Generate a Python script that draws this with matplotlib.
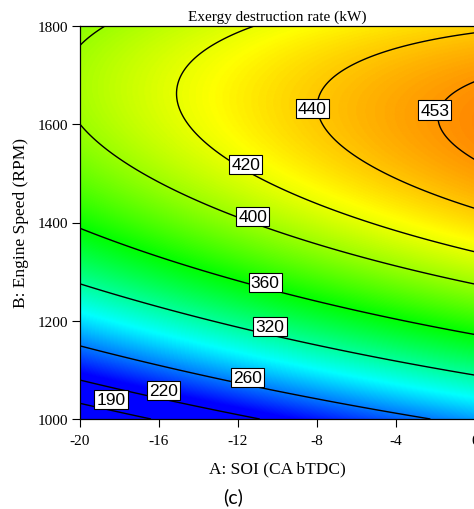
import numpy as np
import matplotlib
matplotlib.use("Agg")
import matplotlib.pyplot as plt
from matplotlib.colors import LinearSegmentedColormap, Normalize

# ---- data (contour crossings: level, SOI, speed) ----
pt_level = [190, 190,
            220, 220,
            260, 260, 260, 260,
            320, 320, 320, 320,
            360, 360, 360, 360, 360,
            400, 400, 400, 400, 400, 400, 400,
            420, 420, 420, 420, 420,
            440, 440, 440, 440,
            453, 453, 453]
pt_soi = [-20, -16.37,
          -20, -11.31,
          -20, -12.32, -10.21, -2.45,
          -20, -12.66, -10.89, -0.08,
          -20, -11.14, -10.18, -1.74, 0,
          -20, -17.22, -11.98, -10.13, 0, -20, -18.65,
          -11.48, -15.19, -12.32, -10.18, 0,
          0, -8.29, -5.28, 0,
          0, -1.99, 0]
pt_speed = [1031, 1000,
            1078, 1000,
            1148, 1085, 1058, 1001,
            1275, 1200, 1173, 1092,
            1387, 1271, 1258, 1190, 1163,
            1604, 1509, 1414, 1380, 1275, 1753, 1800,
            1800, 1665, 1529, 1468, 1343,
            1784, 1638, 1509, 1431,
            1682, 1611, 1533]

contour_levels = [190, 220, 260, 320, 360, 400, 420, 440, 453]
label_soi = [-18.43, -15.78, -11.53, -10.38, -10.63, -11.26, -11.61, -8.24, -2.04]
label_speed = [1039, 1058, 1085, 1188, 1278, 1412, 1518, 1632, 1629]

x_ticks = [-20, -16, -12, -8, -4, 0]
y_ticks = [1000, 1200, 1400, 1600, 1800]

# ---- quadratic response-surface model fitted to the readings ----
def design(A, B):
    a = (np.asarray(A, float) + 10) / 10
    b = (np.asarray(B, float) - 1400) / 400
    return np.stack([np.ones_like(a), a, b, a * b, a * a, b * b], axis=-1)

coef, *_ = np.linalg.lstsq(design(pt_soi, pt_speed), np.asarray(pt_level, float), rcond=None)

A = np.linspace(-20, 0, 400)
B = np.linspace(1000, 1800, 400)
AG, BG = np.meshgrid(A, B)
Z = design(AG, BG) @ coef

# ---- figure ----
fig = plt.figure(figsize=(4.74, 5.10), dpi=100)
ax = fig.add_axes([80 / 474, 90 / 510, 395 / 474, 393 / 510])

cmap = LinearSegmentedColormap.from_list(
    "de", [(0, 0, 1), (0, 1, 1), (0, 1, 0), (1, 1, 0), (1, 0, 0)])
cmap.set_under((0, 0, 1))
cmap.set_over((1, 0, 0))
norm = Normalize(vmin=228, vmax=492)

ax.imshow(Z, extent=[-20, 0, 1000, 1800], origin="lower", aspect="auto",
          cmap=cmap, norm=norm, interpolation="bilinear")
cs = ax.contour(AG, BG, Z, levels=contour_levels, colors="k", linewidths=1.0)
texts = ax.clabel(cs, contour_levels, inline=False, fmt="%d", fontsize=12.5,
                  manual=list(zip(label_soi, label_speed)))
for t, lx, ly in zip(texts, label_soi, label_speed):
    t.set_rotation(0)
    t.set_position((lx, ly))
    t.set_fontfamily("Liberation Sans")
    t.set_bbox(dict(boxstyle="square,pad=0.12", fc="white", ec="black", lw=0.8))
    t.set_zorder(10)

ax.set_xlim(-20, 0)
ax.set_ylim(1000, 1800)
ax.set_xticks(x_ticks)
ax.set_yticks(y_ticks)
ax.set_xticklabels([str(v) for v in x_ticks], fontfamily="Liberation Serif", fontsize=11)
ax.set_yticklabels([str(v) for v in y_ticks], fontfamily="Liberation Serif", fontsize=11)
ax.tick_params(axis="both", direction="out", length=6, width=0.8)
ax.tick_params(axis="y", pad=2.5)
ax.tick_params(axis="x", pad=4.5)
for s in ["left", "bottom", "top"]:
    ax.spines[s].set_linewidth(0.9)
    ax.spines[s].set_color("black")
ax.spines["right"].set_visible(False)

ax.set_title("Exergy destruction rate (kW)", fontfamily="Liberation Serif",
             fontsize=11, pad=4.5)
ax.set_xlabel("A: SOI (CA bTDC)", fontfamily="Liberation Serif", fontsize=12.5)
ax.xaxis.set_label_coords((277 - 80) / 395, (420 - 461) / 393)
ax.set_ylabel("B: Engine Speed (RPM)", fontfamily="Liberation Serif", fontsize=12.5)
ax.yaxis.set_label_coords((29 - 80) / 395, 0.5)

fig.text(233 / 474, 1 - 497 / 510, "(c)", ha="center", va="center",
         fontsize=14, fontfamily="Lato")

fig.savefig("out.png", dpi=100)
